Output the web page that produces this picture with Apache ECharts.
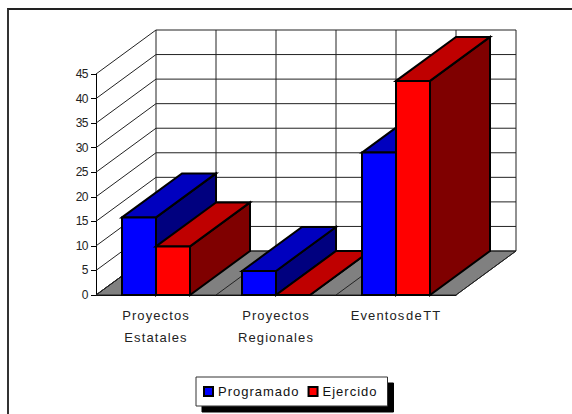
<!DOCTYPE html>
<html>
<head>
<meta charset="utf-8">
<title>Proyectos</title>
<style>
html, body { margin: 0; padding: 0; background: #fff; }
#frame { position: absolute; left: 7px; top: 8px; width: 600px; height: 420px; border-left: 2px solid #333; border-top: 2px solid #222; box-sizing: border-box; }
#main { position: absolute; left: 0; top: 0; width: 572px; height: 414px; }
#main text[text-anchor="middle"] { letter-spacing: 1.1px; word-spacing: -4px; }
#main text[text-anchor="start"] { letter-spacing: 1px; }
#main text[text-anchor="end"] { letter-spacing: -0.5px; }
</style>
<script src="https://cdn.jsdelivr.net/npm/echarts@6/dist/echarts.min.js"></script>
</head>
<body>
<div id="frame"></div>
<div id="main"></div>
<script>
const categories = ['Proyectos\nEstatales', 'Proyectos\nRegionales', 'Eventos de TT']
const programado = [15.8, 4.9, 29]
const ejercido = [9.9, 0, 43.6]
const yTicks = [0, 5, 10, 15, 20, 25, 30, 35, 40, 45]
// media categoria por paso
const floorSteps = [0, 1, 2, 3, 4, 5, 6]

// desplazamiento de la profundidad 3D
const depthX = 60
const depthY = -44
const barRatio = 34 / 120
const lineColor = '#222'

function line(x1, y1, x2, y2) {
  return {
    type: 'line',
    shape: { x1: x1, y1: y1, x2: x2, y2: y2 },
    style: { stroke: lineColor, lineWidth: 1 },
    z2: 2
  }
}

// suelo gris
function renderFloor(params, api) {
  let band = api.size([1, 0])[0]
  let x0 = api.coord([0, 0])[0] - band / 2
  let x1 = x0 + band * 3
  let y0 = api.coord([0, 0])[1]
  return {
    type: 'polygon',
    shape: { points: [[x0, y0], [x1, y0], [x1 + depthX, y0 + depthY], [x0 + depthX, y0 + depthY]] },
    style: { fill: '#808080', stroke: lineColor, lineWidth: 1 },
    z2: 1
  }
}

// lineas de la pared y del lateral, una por cada marca del eje
function renderWallY(params, api) {
  let band = api.size([1, 0])[0]
  let x0 = api.coord([0, 0])[0] - band / 2
  let x1 = x0 + band * 3
  let y = api.coord([0, api.value(0)])[1]
  return {
    type: 'group',
    children: [
      line(x0, y, x0 + depthX, y + depthY),
      line(x0 + depthX, y + depthY, x1 + depthX, y + depthY)
    ]
  }
}

// lineas verticales de la pared y del suelo
function renderWallX(params, api) {
  let band = api.size([1, 0])[0]
  let x = api.coord([0, 0])[0] - band / 2 + params.dataIndex * band / 2
  let y0 = api.coord([0, 0])[1]
  let yTop = api.coord([0, 45])[1]
  return {
    type: 'group',
    children: [
      line(x, y0, x + depthX, y0 + depthY),
      line(x + depthX, y0 + depthY, x + depthX, yTop + depthY)
    ]
  }
}

function bar3d(offset, front, top, side) {
  return function (params, api) {
    let i = params.dataIndex
    let band = api.size([1, 0])[0]
    let w = band * barRatio
    let c = api.coord([i, 0])
    let t = api.coord([i, api.value(1)])
    let x0 = c[0] + offset * w
    let x1 = x0 + w
    let y0 = c[1]
    let y1 = t[1]
    let z = 10 + i * 10 + (offset + 1)
    let edge = { stroke: '#000', lineWidth: 2, lineJoin: 'miter' }
    return {
      type: 'group',
      children: [
        {
          type: 'polygon',
          shape: { points: [[x1, y1], [x1 + depthX, y1 + depthY], [x1 + depthX, y0 + depthY], [x1, y0]] },
          style: Object.assign({ fill: side }, edge),
          z2: z
        },
        {
          type: 'polygon',
          shape: { points: [[x0, y1], [x0 + depthX, y1 + depthY], [x1 + depthX, y1 + depthY], [x1, y1]] },
          style: Object.assign({ fill: top }, edge),
          z2: z
        },
        {
          type: 'rect',
          shape: { x: x0, y: y1, width: w, height: y0 - y1 },
          style: Object.assign({ fill: front }, edge),
          z2: z
        }
      ]
    }
  }
}

let myChart = echarts.init(document.getElementById('main'), null, { renderer: 'svg' })
myChart.setOption({
  animation: false,
  textStyle: { fontFamily: 'Liberation Sans' },
  grid: { left: 96, top: 74, width: 360, height: 221 },
  xAxis: {
    type: 'category',
    data: categories,
    axisLine: { lineStyle: { color: '#000', width: 1 } },
    axisTick: { show: false },
    axisLabel: { color: '#222', fontSize: 13, lineHeight: 22, margin: 9, interval: 0 }
  },
  yAxis: {
    type: 'value',
    min: 0,
    max: 45,
    interval: 5,
    splitLine: { show: false },
    axisLine: { show: true, lineStyle: { color: '#000', width: 1 } },
    axisTick: { show: true, length: 5, lineStyle: { color: '#000' } },
    axisLabel: { color: '#222', fontSize: 12, margin: 8 }
  },
  legend: {
    data: ['Programado', 'Ejercido'],
    left: 196,
    top: 377,
    padding: [8, 18, 8, 7],
    itemWidth: 9,
    itemHeight: 9,
    itemGap: 18,
    icon: 'rect',
    backgroundColor: '#fff',
    borderColor: '#333',
    borderWidth: 1,
    shadowColor: '#000',
    shadowBlur: 0,
    shadowOffsetX: 6,
    shadowOffsetY: 6,
    textStyle: { color: '#111', fontSize: 13 },
    itemStyle: { borderColor: '#000', borderWidth: 2 }
  },
  series: [
    { type: 'custom', silent: true, clip: false, renderItem: renderFloor, data: [[0]] },
    { type: 'custom', silent: true, clip: false, renderItem: renderWallY, data: yTicks.map(v => [v]), encode: { y: 0 } },
    { type: 'custom', silent: true, clip: false, renderItem: renderWallX, data: floorSteps.map(v => [v]) },
    {
      name: 'Programado',
      type: 'custom',
      clip: false,
      itemStyle: { color: '#0000ff' },
      renderItem: bar3d(-1, '#0000ff', '#0000bf', '#00007f'),
      data: programado.map((v, i) => [i, v]),
      encode: { x: 0, y: 1 }
    },
    {
      name: 'Ejercido',
      type: 'custom',
      clip: false,
      itemStyle: { color: '#ff0000' },
      renderItem: bar3d(0, '#ff0000', '#bf0000', '#7f0000'),
      data: ejercido.map((v, i) => [i, v]),
      encode: { x: 0, y: 1 }
    }
  ]
})
</script>
</body>
</html>
